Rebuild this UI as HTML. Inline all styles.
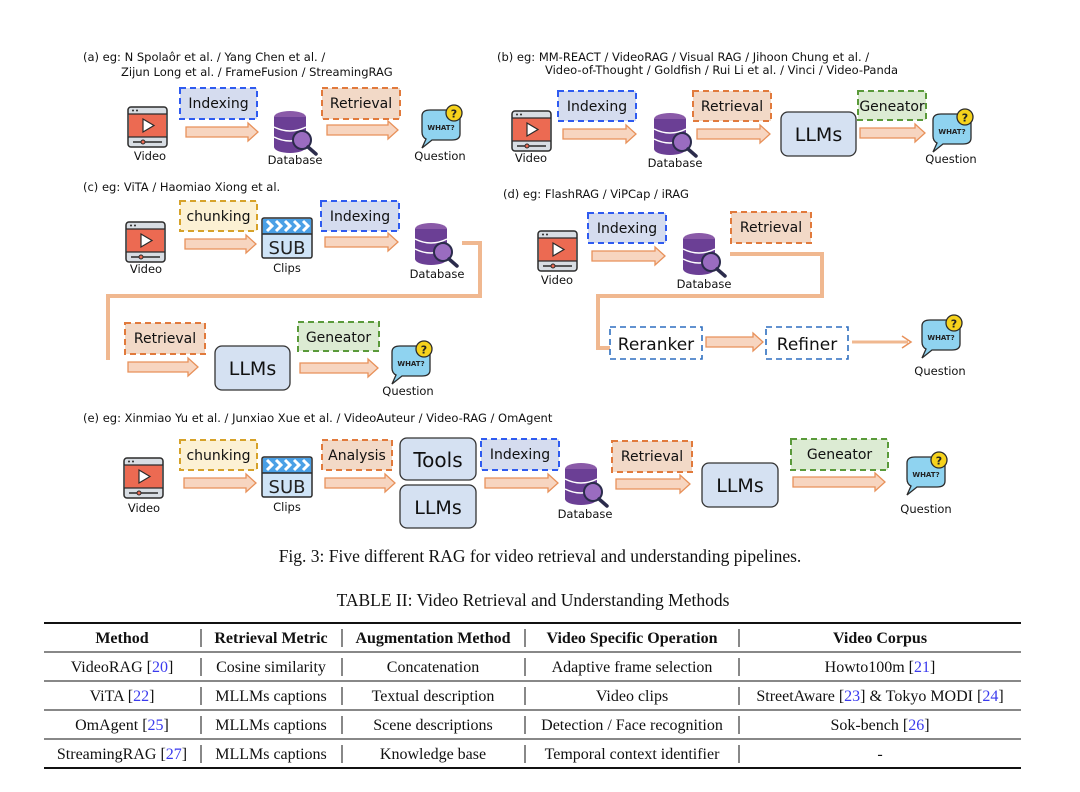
<!DOCTYPE html>
<html><head><meta charset="utf-8"><style>
html,body{margin:0;padding:0;background:#fff;}
body{width:1080px;height:792px;position:relative;overflow:hidden;}
svg{position:absolute;left:0;top:0;}
.t{font-family:"DejaVu Sans","Liberation Sans",sans-serif;font-size:11.5px;fill:#111;}
.b{font-family:"DejaVu Sans","Liberation Sans",sans-serif;font-size:14px;fill:#111;}
.l{font-family:"DejaVu Sans","Liberation Sans",sans-serif;font-size:19px;fill:#111;}
.s{font-family:"Liberation Serif",serif;font-size:16px;fill:#111;}
.sb{font-family:"Liberation Serif",serif;font-size:16px;font-weight:bold;fill:#111;}
.cap{font-family:"Liberation Serif",serif;font-size:17.5px;fill:#111;}
.ref{fill:#3a3aee;}
</style></head><body>
<svg width="1080" height="792" viewBox="0 0 1080 792">
<defs>
<g id="vid">
<rect x="0" y="0" width="39" height="40" rx="3" fill="#d8dde3" stroke="#2b2b2b" stroke-width="1.5"/>
<rect x="1" y="7" width="37" height="23" fill="#ec6a52"/>
<line x1="0" y1="7" x2="39" y2="7" stroke="#2b2b2b" stroke-width="1.2"/>
<line x1="0" y1="30" x2="39" y2="30" stroke="#2b2b2b" stroke-width="1.2"/>
<circle cx="5" cy="3.5" r="1" fill="#2b2b2b"/><circle cx="9" cy="3.5" r="1" fill="#2b2b2b"/>
<path d="M15 12 L26 18.5 L15 25 Z" fill="#fff" stroke="#2b2b2b" stroke-width="1.2"/>
<line x1="5" y1="35" x2="34" y2="35" stroke="#2b2b2b" stroke-width="1.5"/>
<circle cx="15" cy="35" r="2" fill="#ec6a52" stroke="#2b2b2b"/>
</g>
<g id="db">
<ellipse cx="18" cy="7" rx="16" ry="6" fill="#8a5aa8"/>
<rect x="2" y="7" width="32" height="30" fill="#6b3f95"/>
<ellipse cx="18" cy="37" rx="16" ry="6" fill="#6b3f95"/>
<path d="M2 17 Q18 25 34 17" stroke="#fff" stroke-width="1.5" fill="none"/>
<path d="M2 27 Q18 35 34 27" stroke="#fff" stroke-width="1.5" fill="none"/>
<circle cx="30" cy="30" r="9" fill="#9a6cc0" stroke="#2b2b4b" stroke-width="2"/>
<line x1="36" y1="37" x2="44" y2="44" stroke="#2b2b4b" stroke-width="3.5" stroke-linecap="round"/>
</g>
<g id="q">
<path d="M4 8 Q4 2 12 2 L34 2 Q42 2 42 10 L42 26 Q42 32 34 32 L14 32 L4 40 L8 31 Q4 29 4 24 Z" fill="#8fd3f0" stroke="#2b2b2b" stroke-width="1.3"/>
<text x="23" y="22" text-anchor="middle" style="font-family:'DejaVu Sans',sans-serif;font-size:7px;font-weight:bold" fill="#222">WHAT?</text>
<circle cx="36" cy="5" r="8" fill="#f6d21c" stroke="#2b2b2b" stroke-width="1.3"/>
<text x="36" y="9.5" text-anchor="middle" style="font-family:'DejaVu Sans',sans-serif;font-size:11px;font-weight:bold" fill="#222">?</text>
</g>
<g id="sub">
<rect x="0" y="0" width="50" height="40" rx="2" fill="#cfe4f7" stroke="#2b2b2b" stroke-width="1.5"/>
<rect x="1" y="1" width="48" height="15" fill="#4aa0e6"/>
<line x1="0" y1="16" x2="50" y2="16" stroke="#2b2b2b" stroke-width="1.5"/>
<path d="M5 3 l5 5 l-5 5 M14 3 l5 5 l-5 5 M23 3 l5 5 l-5 5 M32 3 l5 5 l-5 5 M41 3 l5 5 l-5 5" stroke="#fff" stroke-width="3" fill="none"/>
<text x="25" y="36" text-anchor="middle" style="font-family:'DejaVu Sans',sans-serif;font-size:18px" fill="#222">SUB</text>
</g>
</defs>

<!-- (a) -->
<text class="t" x="83" y="61">(a) eg: N Spolaôr et al. / Yang Chen et al. /</text>
<text class="t" x="121" y="76">Zijun Long et al. / FrameFusion / StreamingRAG</text>
<rect x="180" y="88" width="77" height="31" fill="#d5dcef" stroke="#2f5bf0" stroke-width="2" stroke-dasharray="6,4"/>
<text class="b" x="218.5" y="108" text-anchor="middle">Indexing</text>
<rect x="322" y="88" width="78" height="31" fill="#f2d9c7" stroke="#e17a3c" stroke-width="2" stroke-dasharray="6,4"/>
<text class="b" x="361" y="108" text-anchor="middle">Retrieval</text>
<use href="#vid" x="128" y="107"/>
<text class="t" x="150" y="160" text-anchor="middle">Video</text>
<path d="M186 127 h62 v-4 l10 9 l-10 9 v-4 h-62 z" fill="#f7d5c0" stroke="#e8915a" stroke-width="1.3"/>
<use href="#db" x="272" y="110"/>
<text class="t" x="295" y="164" text-anchor="middle">Database</text>
<path d="M327 125 h61 v-4 l10 9 l-10 9 v-4 h-61 z" fill="#f7d5c0" stroke="#e8915a" stroke-width="1.3"/>
<use href="#q" x="418" y="108"/>
<text class="t" x="440" y="160" text-anchor="middle">Question</text>

<!-- (b) -->
<text class="t" x="497" y="61">(b)  eg: MM-REACT / VideoRAG / Visual RAG / Jihoon Chung et al. /</text>
<text class="t" x="545" y="74">Video-of-Thought / Goldfish / Rui Li et al. / Vinci / Video-Panda</text>
<use href="#vid" x="512" y="111"/>
<text class="t" x="531" y="162" text-anchor="middle">Video</text>
<rect x="558" y="91" width="78" height="30" fill="#d5dcef" stroke="#2f5bf0" stroke-width="2" stroke-dasharray="6,4"/>
<text class="b" x="597" y="111" text-anchor="middle">Indexing</text>
<path d="M563 129 h63 v-4 l10 9 l-10 9 v-4 h-63 z" fill="#f7d5c0" stroke="#e8915a" stroke-width="1.3"/>
<use href="#db" x="652" y="112"/>
<text class="t" x="675" y="167" text-anchor="middle">Database</text>
<rect x="693" y="91" width="78" height="30" fill="#f2d9c7" stroke="#e17a3c" stroke-width="2" stroke-dasharray="6,4"/>
<text class="b" x="732" y="111" text-anchor="middle">Retrieval</text>
<path d="M697 129 h63 v-4 l10 9 l-10 9 v-4 h-63 z" fill="#f7d5c0" stroke="#e8915a" stroke-width="1.3"/>
<rect x="781" y="112" width="75" height="44" rx="7" fill="#d5e1f2" stroke="#333" stroke-width="1.3"/>
<text class="l" x="818.5" y="141" text-anchor="middle">LLMs</text>
<rect x="858" y="91" width="68" height="29" fill="#dcebd3" stroke="#5a9a3a" stroke-width="2" stroke-dasharray="6,4"/>
<text class="b" x="892" y="111" text-anchor="middle">Geneator</text>
<path d="M860 128 h55 v-4 l10 9 l-10 9 v-4 h-55 z" fill="#f7d5c0" stroke="#e8915a" stroke-width="1.3"/>
<use href="#q" x="929" y="112"/>
<text class="t" x="951" y="163" text-anchor="middle">Question</text>

<!-- (c) -->
<text class="t" x="83" y="191">(c)  eg: ViTA / Haomiao Xiong et al.</text>
<use href="#vid" x="126" y="222"/>
<text class="t" x="146" y="273" text-anchor="middle">Video</text>
<rect x="180" y="201" width="77" height="30" fill="#fcf1d4" stroke="#d6a22a" stroke-width="2" stroke-dasharray="6,4"/>
<text class="b" x="218.5" y="221" text-anchor="middle">chunking</text>
<path d="M185 239 h61 v-4 l10 9 l-10 9 v-4 h-61 z" fill="#f7d5c0" stroke="#e8915a" stroke-width="1.3"/>
<use href="#sub" x="262" y="218"/>
<text class="t" x="287" y="272" text-anchor="middle">Clips</text>
<rect x="321" y="201" width="78" height="30" fill="#d5dcef" stroke="#2f5bf0" stroke-width="2" stroke-dasharray="6,4"/>
<text class="b" x="360" y="221" text-anchor="middle">Indexing</text>
<path d="M325 237 h63 v-4 l10 9 l-10 9 v-4 h-63 z" fill="#f7d5c0" stroke="#e8915a" stroke-width="1.3"/>
<use href="#db" x="413" y="222"/>
<text class="t" x="437" y="278" text-anchor="middle">Database</text>
<path d="M462 243 H480 V296 H108 V360" fill="none" stroke="#f0b890" stroke-width="4"/>
<rect x="125" y="323" width="80" height="31" fill="#f2d9c7" stroke="#e17a3c" stroke-width="2" stroke-dasharray="6,4"/>
<text class="b" x="165" y="343" text-anchor="middle">Retrieval</text>
<path d="M128 362 h60 v-4 l10 9 l-10 9 v-4 h-60 z" fill="#f7d5c0" stroke="#e8915a" stroke-width="1.3"/>
<rect x="215" y="346" width="75" height="44" rx="7" fill="#d5e1f2" stroke="#333" stroke-width="1.3"/>
<text class="l" x="252.5" y="375" text-anchor="middle">LLMs</text>
<rect x="298" y="322" width="81" height="29" fill="#dcebd3" stroke="#5a9a3a" stroke-width="2" stroke-dasharray="6,4"/>
<text class="b" x="338.5" y="342" text-anchor="middle">Geneator</text>
<path d="M300 363 h68 v-4 l10 9 l-10 9 v-4 h-68 z" fill="#f7d5c0" stroke="#e8915a" stroke-width="1.3"/>
<use href="#q" x="388" y="344"/>
<text class="t" x="408" y="395" text-anchor="middle">Question</text>

<!-- (d) -->
<text class="t" x="503" y="198">(d)  eg: FlashRAG / ViPCap / iRAG</text>
<use href="#vid" x="538" y="231"/>
<text class="t" x="557" y="284" text-anchor="middle">Video</text>
<rect x="588" y="213" width="78" height="30" fill="#d5dcef" stroke="#2f5bf0" stroke-width="2" stroke-dasharray="6,4"/>
<text class="b" x="627" y="233" text-anchor="middle">Indexing</text>
<path d="M592 251 h63 v-4 l10 9 l-10 9 v-4 h-63 z" fill="#f7d5c0" stroke="#e8915a" stroke-width="1.3"/>
<use href="#db" x="681" y="232"/>
<text class="t" x="704" y="288" text-anchor="middle">Database</text>
<rect x="731" y="212" width="80" height="31" fill="#f2d9c7" stroke="#e17a3c" stroke-width="2" stroke-dasharray="6,4"/>
<text class="b" x="771" y="232" text-anchor="middle">Retrieval</text>
<path d="M730 254 H822 V296 H598 V348 H610" fill="none" stroke="#f0b890" stroke-width="4"/>
<rect x="610" y="327" width="92" height="32" fill="#fff" stroke="#2f6fc0" stroke-width="1.6" stroke-dasharray="6,4"/>
<text class="l" x="656" y="350" text-anchor="middle" style="font-size:17px">Reranker</text>
<path d="M706 337 h47 v-4 l10 9 l-10 9 v-4 h-47 z" fill="#f7d5c0" stroke="#e8915a" stroke-width="1.3"/>
<rect x="766" y="327" width="82" height="32" fill="#fff" stroke="#2f6fc0" stroke-width="1.6" stroke-dasharray="6,4"/>
<text class="l" x="807" y="350" text-anchor="middle" style="font-size:17px">Refiner</text>
<path d="M852 342 H908" stroke="#f0b890" stroke-width="3"/>
<path d="M902 336 L911 342 L902 348" fill="none" stroke="#e8915a" stroke-width="1.5"/>
<use href="#q" x="918" y="318"/>
<text class="t" x="940" y="375" text-anchor="middle">Question</text>

<!-- (e) -->
<text class="t" x="83" y="422">(e)  eg: Xinmiao Yu et al.  /  Junxiao Xue et al. / VideoAuteur / Video-RAG / OmAgent</text>
<use href="#vid" x="124" y="458"/>
<text class="t" x="144" y="512" text-anchor="middle">Video</text>
<rect x="180" y="440" width="77" height="30" fill="#fcf1d4" stroke="#d6a22a" stroke-width="2" stroke-dasharray="6,4"/>
<text class="b" x="218.5" y="460" text-anchor="middle">chunking</text>
<path d="M184 478 h62 v-4 l10 9 l-10 9 v-4 h-62 z" fill="#f7d5c0" stroke="#e8915a" stroke-width="1.3"/>
<use href="#sub" x="262" y="457"/>
<text class="t" x="287" y="511" text-anchor="middle">Clips</text>
<rect x="322" y="440" width="70" height="30" fill="#f2d9c7" stroke="#e17a3c" stroke-width="2" stroke-dasharray="6,4"/>
<text class="b" x="357" y="460" text-anchor="middle">Analysis</text>
<path d="M325 478 h60 v-4 l10 9 l-10 9 v-4 h-60 z" fill="#f7d5c0" stroke="#e8915a" stroke-width="1.3"/>
<rect x="400" y="438" width="76" height="42" rx="7" fill="#d5e1f2" stroke="#333" stroke-width="1.3"/>
<text class="l" x="438" y="467" text-anchor="middle" style="font-size:20px">Tools</text>
<rect x="400" y="485" width="76" height="43" rx="7" fill="#d5e1f2" stroke="#333" stroke-width="1.3"/>
<text class="l" x="438" y="514" text-anchor="middle">LLMs</text>
<rect x="481" y="439" width="78" height="31" fill="#d5dcef" stroke="#2f5bf0" stroke-width="2" stroke-dasharray="6,4"/>
<text class="b" x="520" y="459" text-anchor="middle">Indexing</text>
<path d="M485 478 h63 v-4 l10 9 l-10 9 v-4 h-63 z" fill="#f7d5c0" stroke="#e8915a" stroke-width="1.3"/>
<use href="#db" x="563" y="462"/>
<text class="t" x="585" y="518" text-anchor="middle">Database</text>
<rect x="612" y="441" width="80" height="31" fill="#f2d9c7" stroke="#e17a3c" stroke-width="2" stroke-dasharray="6,4"/>
<text class="b" x="652" y="461" text-anchor="middle">Retrieval</text>
<path d="M616 479 h64 v-4 l10 9 l-10 9 v-4 h-64 z" fill="#f7d5c0" stroke="#e8915a" stroke-width="1.3"/>
<rect x="702" y="463" width="76" height="44" rx="7" fill="#d5e1f2" stroke="#333" stroke-width="1.3"/>
<text class="l" x="740" y="492" text-anchor="middle">LLMs</text>
<rect x="791" y="439" width="97" height="31" fill="#dcebd3" stroke="#5a9a3a" stroke-width="2" stroke-dasharray="6,4"/>
<text class="b" x="839.5" y="459" text-anchor="middle">Geneator</text>
<path d="M793 477 h82 v-4 l10 9 l-10 9 v-4 h-82 z" fill="#f7d5c0" stroke="#e8915a" stroke-width="1.3"/>
<use href="#q" x="903" y="455"/>
<text class="t" x="926" y="513" text-anchor="middle">Question</text>

<!-- captions -->
<text class="cap" x="540" y="562" text-anchor="middle">Fig. 3: Five different RAG for video retrieval and understanding pipelines.</text>
<text class="cap" x="533" y="606" text-anchor="middle">TABLE II: Video Retrieval and Understanding Methods</text>

<!-- table -->
<line x1="44" y1="623" x2="1021" y2="623" stroke="#111" stroke-width="2"/>
<line x1="44" y1="652" x2="1021" y2="652" stroke="#111" stroke-width="1"/>
<line x1="44" y1="681" x2="1021" y2="681" stroke="#111" stroke-width="1"/>
<line x1="44" y1="710" x2="1021" y2="710" stroke="#111" stroke-width="1"/>
<line x1="44" y1="739" x2="1021" y2="739" stroke="#111" stroke-width="1"/>
<line x1="44" y1="768" x2="1021" y2="768" stroke="#111" stroke-width="2"/>
<g stroke="#111" stroke-width="1">
<line x1="201" y1="629" x2="201" y2="647"/><line x1="342" y1="629" x2="342" y2="647"/><line x1="525" y1="629" x2="525" y2="647"/><line x1="739" y1="629" x2="739" y2="647"/>
<line x1="201" y1="658" x2="201" y2="676"/><line x1="342" y1="658" x2="342" y2="676"/><line x1="525" y1="658" x2="525" y2="676"/><line x1="739" y1="658" x2="739" y2="676"/>
<line x1="201" y1="687" x2="201" y2="705"/><line x1="342" y1="687" x2="342" y2="705"/><line x1="525" y1="687" x2="525" y2="705"/><line x1="739" y1="687" x2="739" y2="705"/>
<line x1="201" y1="716" x2="201" y2="734"/><line x1="342" y1="716" x2="342" y2="734"/><line x1="525" y1="716" x2="525" y2="734"/><line x1="739" y1="716" x2="739" y2="734"/>
<line x1="201" y1="745" x2="201" y2="763"/><line x1="342" y1="745" x2="342" y2="763"/><line x1="525" y1="745" x2="525" y2="763"/><line x1="739" y1="745" x2="739" y2="763"/>
</g>
<g text-anchor="middle">
<text class="sb" x="122" y="643">Method</text>
<text class="sb" x="271" y="643">Retrieval Metric</text>
<text class="sb" x="433" y="643">Augmentation Method</text>
<text class="sb" x="632" y="643">Video Specific Operation</text>
<text class="sb" x="880" y="643">Video Corpus</text>

<text class="s" x="122" y="672">VideoRAG [<tspan class="ref">20</tspan>]</text>
<text class="s" x="271" y="672">Cosine similarity</text>
<text class="s" x="433" y="672">Concatenation</text>
<text class="s" x="632" y="672">Adaptive frame selection</text>
<text class="s" x="880" y="672">Howto100m [<tspan class="ref">21</tspan>]</text>

<text class="s" x="122" y="701">ViTA [<tspan class="ref">22</tspan>]</text>
<text class="s" x="271" y="701">MLLMs captions</text>
<text class="s" x="433" y="701">Textual description</text>
<text class="s" x="632" y="701">Video clips</text>
<text class="s" x="880" y="701">StreetAware [<tspan class="ref">23</tspan>] &amp; Tokyo MODI [<tspan class="ref">24</tspan>]</text>

<text class="s" x="122" y="730">OmAgent [<tspan class="ref">25</tspan>]</text>
<text class="s" x="271" y="730">MLLMs captions</text>
<text class="s" x="433" y="730">Scene descriptions</text>
<text class="s" x="632" y="730">Detection / Face recognition</text>
<text class="s" x="880" y="730">Sok-bench [<tspan class="ref">26</tspan>]</text>

<text class="s" x="122" y="759">StreamingRAG [<tspan class="ref">27</tspan>]</text>
<text class="s" x="271" y="759">MLLMs captions</text>
<text class="s" x="433" y="759">Knowledge base</text>
<text class="s" x="632" y="759">Temporal context identifier</text>
<text class="s" x="880" y="759">-</text>
</g>
</svg>
</body></html>
